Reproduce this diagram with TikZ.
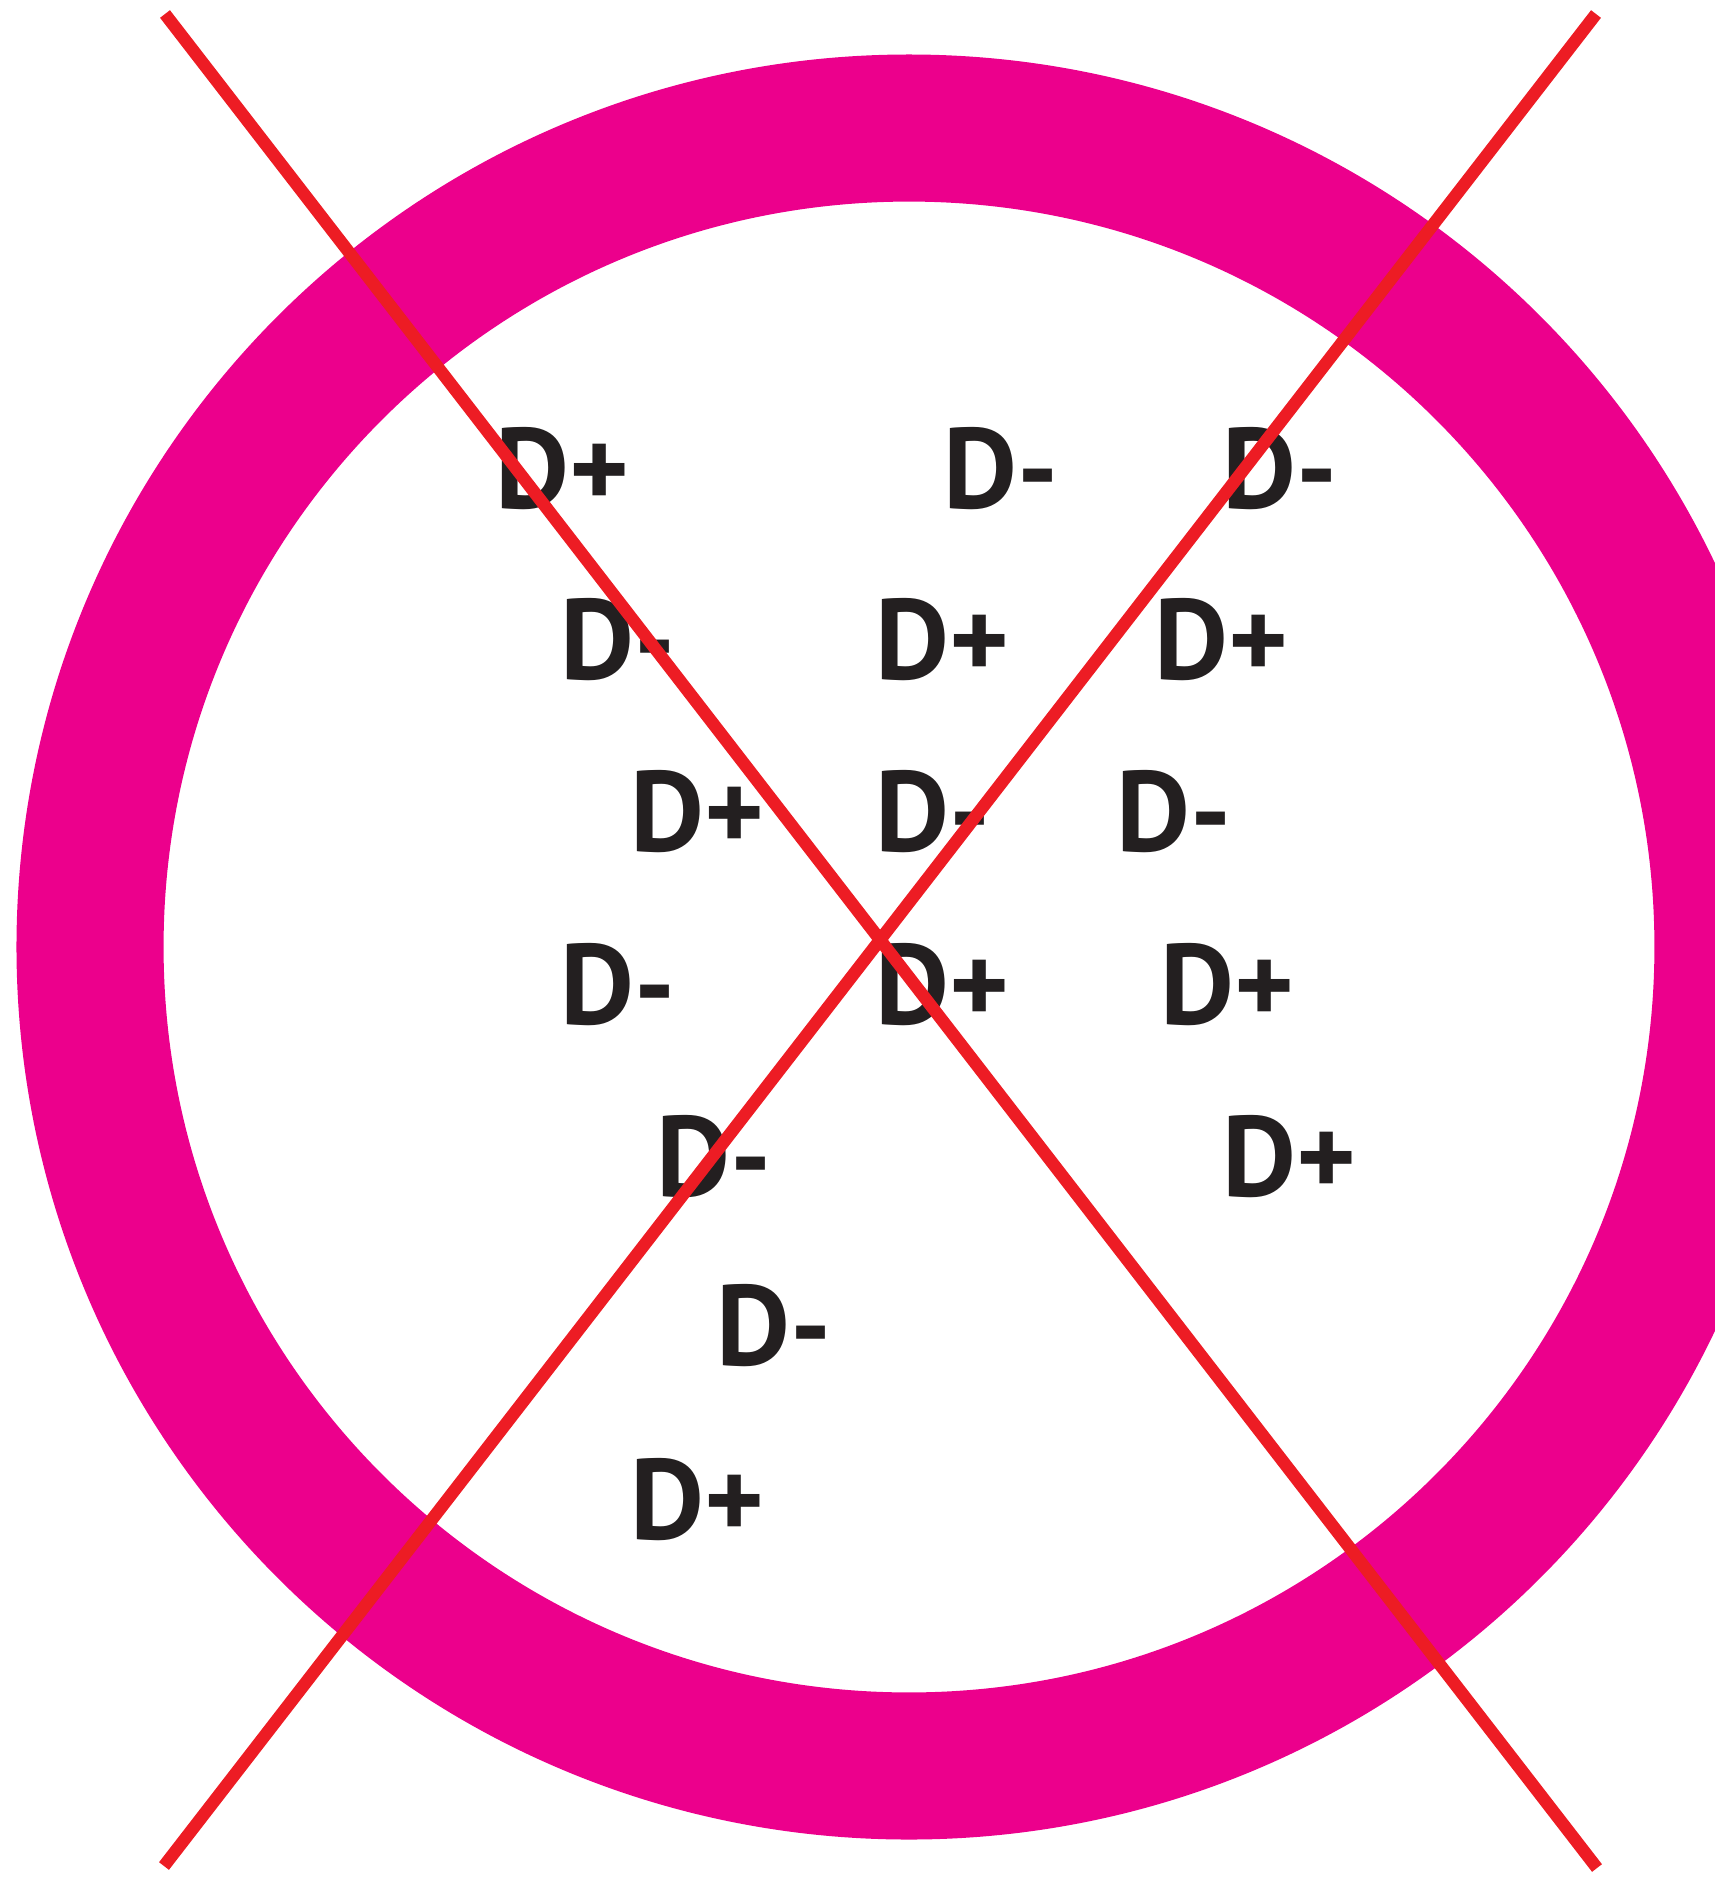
\documentclass[tikz,border=0pt]{standalone}
\usepackage{fontspec}
\setmainfont{PT Sans}
\definecolor{ringmagenta}{HTML}{EC008C}
\definecolor{crossred}{HTML}{ED1C24}
\definecolor{chargeink}{HTML}{231F20}
\begin{document}
\begin{tikzpicture}[x=0.01cm,y=-0.01cm,
    charge/.style={anchor=base west,inner sep=0pt,text=chargeink,
        font=\fontsize{32.5}{32}\selectfont\bfseries},
    crossline/.style={crossred,line width=0.125cm}]
    \useasboundingbox (0,0) rectangle (1715,1878);
    \clip (0,0) rectangle (1715,1878);
    % The ring, cut off on the right
    \draw[ringmagenta,line width=1.47cm] (909,947) circle (8.185cm);
    % Charges inside the ring
    \foreach \x/\y/\s/\n in {495/508/+/c11, 943/508/-/c12, 1222/508/-/c13,
        560/679/-/c21, 875/679/+/c22, 1154/679/+/c23,
        630/851/+/c31, 875/851/-/c32, 1116/851/-/c33,
        560/1024/-/c41, 875/1024/+/c42, 1160/1024/+/c43,
        656/1196/-/c51, 1222/1196/+/c52,
        716/1365/-/c61,
        630/1539/+/c71}
        \node[charge] (\n) at (\x,\y) {D\s};
    % The cross drawn over everything
    \coordinate (tl) at (165,14);
    \coordinate (br) at (1597,1868);
    \coordinate (tr) at (1596,14);
    \coordinate (bl) at (164,1866);
    \draw[crossline] (tl) -- (br);
    \draw[crossline] (tr) -- (bl);
\end{tikzpicture}
\end{document}
